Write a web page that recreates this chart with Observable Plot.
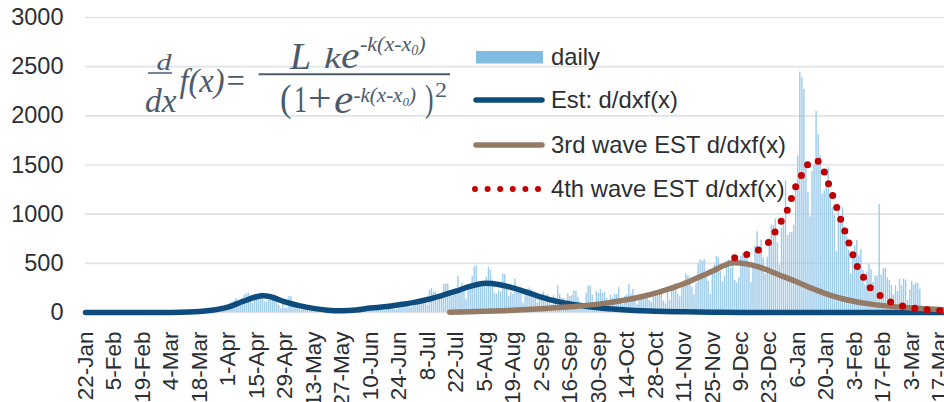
<!DOCTYPE html>
<html><head><meta charset="utf-8">
<script src="https://cdn.jsdelivr.net/npm/d3@7"></script>
<script src="https://cdn.jsdelivr.net/npm/@observablehq/plot@0.6"></script>
<style>
html,body{margin:0;padding:0;background:#fff;overflow:hidden}
#chart{width:944px;height:402px;overflow:hidden}
</style></head><body><div id="chart"></div>
<script>
// ---- data ----
const dailyStart = "2020-01-22";
const dailyJan20 = [0,0,1,0,0,0,0,0,1,0];
const dailyFeb20 = [0,0,0,0,0,0,0,0,0,0,0,1,1,2,8,1,3,3,1,3,3,2,3,1,3,2,1,1,1];
const dailyMar20 = [3,2,4,0,8,6,1,2,0,4,3,6,2,4,1,3,1,9,6,11,7,3,16,17,41,47,40,63,68,13,78];
const dailyApr20 = [66,97,89,116,143,83,80,144,178,189,197,166,91,161,127,149,201,181,107,102,123,132,134,161,103,72,39,112,47,46];
const dailyMay20 = [165,160,91,87,58,38,23,39,36,22,15,28,10,30,9,14,5,10,5,5,11,3,2,14,8,10,11,15,22,14,5];
const dailyJun20 = [13,34,12,28,20,26,14,13,12,18,22,25,24,47,48,27,16,41,35,39,35,29,31,55,48,54,57,60,58,54];
const dailyJul20 = [67,107,124,131,111,102,106,75,224,243,206,206,119,143,165,286,293,290,188,168,237,238,366,260,295,239,131,266,250,367,463];
const dailyAug20 = [472,292,258,309,263,360,462,429,331,197,188,222,206,389,385,260,161,207,186,339,258,256,212,95,182,236,250,226,148,148,100];
const dailySep20 = [170,141,211,136,181,116,77,170,149,276,187,146,146,80,191,163,172,220,218,155,98,88,59,195,270,270,173,78,212,194];
const dailyOct20 = [235,196,207,143,78,176,142,186,182,253,146,78,166,177,284,185,235,134,78,139,150,185,186,203,124,102,158,171,221,198,215];
const dailyNov20 = [116,87,209,122,269,242,294,189,157,293,317,393,374,352,255,180,298,493,534,522,539,391,314,186,401,481,570,561,418,311];
const dailyDec20 = [372,500,533,449,584,327,299,352,572,602,595,621,480,305,460,678,822,664,736,556,392,563,748,888,884,949,708,481,856,944,1337];
const dailyJan21 = [783,814,816,884,1278,1591,2447,2392,2268,1494,1219,970,1433,1502,2044,1809,1592,1204,1240,1274,1471,1175,1070,986,618,1026,973,1064,868,769,633];
const dailyFeb21 = [393,556,676,734,577,639,429,276,412,491,434,307,369,371,1100,378,445,445,353,327,272,178,275,213,340,270,337,329];
const dailyMar21 = [121,232,316,279,301,293,237];

const estDates = ["2020-01-22","2020-02-19","2020-03-04","2020-03-18","2020-03-25","2020-04-01","2020-04-08","2020-04-15","2020-04-18","2020-04-22","2020-04-29","2020-05-06","2020-05-13","2020-05-20","2020-05-27","2020-06-03","2020-06-10","2020-06-17","2020-06-24","2020-07-01","2020-07-08","2020-07-15","2020-07-22","2020-07-29","2020-08-04","2020-08-12","2020-08-19","2020-08-26","2020-09-02","2020-09-09","2020-09-16","2020-09-23","2020-09-30","2020-10-07","2020-10-14","2020-10-28","2020-11-11","2020-11-25","2020-12-09","2021-01-06","2021-03-19"];
const estValues = [0,0,1,10,25,55,110,160,170,160,108,70,42,24,18,26,45,58,78,100,132,172,217,265,295,285,251,205,156,115,88,66,48,35,26,13,7,3,1,0,0];

const wave3Dates = ["2020-07-19","2020-08-05","2020-08-19","2020-09-02","2020-09-16","2020-09-30","2020-10-14","2020-10-21","2020-10-28","2020-11-04","2020-11-11","2020-11-18","2020-11-25","2020-12-01","2020-12-05","2020-12-09","2020-12-16","2020-12-23","2020-12-30","2021-01-06","2021-01-13","2021-01-20","2021-01-27","2021-02-03","2021-02-10","2021-02-17","2021-03-03","2021-03-19"];
const wave3Values = [3,12,22,37,58,85,130,160,196,242,292,355,420,480,505,502,475,425,365,308,245,190,145,112,88,70,45,28];

const wave4Dates = ["2020-12-06","2020-12-12","2020-12-18","2020-12-23","2020-12-26","2020-12-29","2021-01-01","2021-01-03","2021-01-05","2021-01-08","2021-01-11","2021-01-14","2021-01-16","2021-01-19","2021-01-21","2021-01-23","2021-01-25","2021-01-27","2021-01-29","2021-01-31","2021-02-02","2021-02-04","2021-02-07","2021-02-10","2021-02-15","2021-02-20","2021-02-26","2021-03-04","2021-03-10","2021-03-17"];
const wave4Values = [556,590,640,720,825,935,1047,1166,1281,1400,1508,1550,1539,1431,1315,1197,1078,951,834,715,593,478,370,265,180,112,68,44,30,18];

const yTicks = [0,500,1000,1500,2000,2500,3000];
const xTickDates = ["2020-01-22","2020-02-05","2020-02-19","2020-03-04","2020-03-18","2020-04-01","2020-04-15","2020-04-29","2020-05-13","2020-05-27","2020-06-10","2020-06-24","2020-07-08","2020-07-22","2020-08-05","2020-08-19","2020-09-02","2020-09-16","2020-09-30","2020-10-14","2020-10-28","2020-11-11","2020-11-25","2020-12-09","2020-12-23","2021-01-06","2021-01-20","2021-02-03","2021-02-17","2021-03-03","2021-03-17"];
const legendLabels = ["daily","Est: d/dxf(x)","3rd wave EST d/dxf(x)","4th wave EST d/dxf(x)"];

// ---- build ----
const parse = d3.utcParse("%Y-%m-%d");
const start = parse(dailyStart);
const daily = [].concat(dailyJan20,dailyFeb20,dailyMar20,dailyApr20,dailyMay20,dailyJun20,dailyJul20,dailyAug20,dailySep20,dailyOct20,dailyNov20,dailyDec20,dailyJan21,dailyFeb21,dailyMar21);
const dailyRows = daily.map((v,i)=>({date:d3.utcDay.offset(start,i), value:v}));
const toRows = (ds,vs)=>ds.map((d,i)=>({date:parse(d), value:vs[i]}));
const estRows = toRows(estDates, estValues);
const wave3Rows = toRows(wave3Dates, wave3Values);
const wave4Rows = toRows(wave4Dates, wave4Values);
const xTicks = xTickDates.map(parse);
const xEnd = new Date(start.getTime() + 422.1*864e5);

const C = {daily:"#9ccbeb", est:"#0e4c7e", w3:"#957a66", w4:"#c00000", grid:"#dfe3e8", text:"#2b2f33", eq:"#4b5b6c"};

const plot = Plot.plot({
  width: 944, height: 402,
  marginLeft: 85, marginRight: 0, marginTop: 17, marginBottom: 90,
  style: {fontFamily:"'Liberation Sans', Arial, sans-serif", fontSize:"23.5px", color:C.text, background:"#fff"},
  x: {type:"utc", domain:[start, xEnd]},
  y: {domain:[0,3000]},
  marks: [
    Plot.ruleY(yTicks, {stroke:C.grid, strokeWidth:1.6}),
    Plot.ruleX(dailyRows, {x:"date", y1:0, y2:"value", stroke:C.daily, strokeWidth:1.4}),
    Plot.line(estRows, {x:"date", y:"value", stroke:C.est, strokeWidth:5.5, curve:"catmull-rom", strokeLinecap:"round"}),
    Plot.line(wave3Rows, {x:"date", y:"value", stroke:C.w3, strokeWidth:5.5, curve:"catmull-rom", strokeLinecap:"round"}),
    Plot.line(wave4Rows, {x:"date", y:"value", stroke:C.w4, strokeWidth:7, strokeDasharray:"0 12.5", strokeLinecap:"round", curve:"catmull-rom"}),
    Plot.axisY({ticks:yTicks, tickSize:0, tickPadding:22, tickFormat:d=>String(d), fontSize:23.5, label:null}),
    Plot.axisX({ticks:xTicks, tickSize:0, tickPadding:19, tickRotate:-90, tickFormat:d3.utcFormat("%-d-%b"), fontSize:22.5, label:null})
  ]
});
document.getElementById("chart").appendChild(plot);

// ---- legend ----
const svg = d3.select(plot);
const lg = svg.append("g").attr("text-anchor","start").attr("font-family","'Liberation Sans', Arial, sans-serif").attr("font-size","23.8px").attr("fill",C.text);
const rowY = [57, 100, 145, 189];
lg.append("rect").attr("x",476).attr("y",51).attr("width",67).attr("height",12.5).attr("fill","#80bbe0");
lg.append("line").attr("x1",476).attr("x2",542).attr("y1",rowY[1]).attr("y2",rowY[1]).attr("stroke",C.est).attr("stroke-width",5.5).attr("stroke-linecap","round");
lg.append("line").attr("x1",476).attr("x2",542).attr("y1",rowY[2]).attr("y2",rowY[2]).attr("stroke",C.w3).attr("stroke-width",5.5).attr("stroke-linecap","round");
lg.append("line").attr("x1",475).attr("x2",540).attr("y1",rowY[3]).attr("y2",rowY[3]).attr("stroke",C.w4).attr("stroke-width",6).attr("stroke-dasharray","0 12.6").attr("stroke-linecap","round");
legendLabels.forEach((t,i)=>{
  lg.append("text").attr("x",551).attr("y",rowY[i]).attr("dy","0.35em").text(t);
});

// ---- equation ----
const eq = svg.append("g").attr("text-anchor","start").attr("fill",C.eq).attr("font-family","'Liberation Serif', 'Times New Roman', serif");
const T = (x,y,s,size,italic,len)=>{
  const t = eq.append("text").attr("x",x).attr("y",y).attr("font-size",size+"px").attr("font-style",italic?"italic":"normal").text(s);
  if (len) t.attr("textLength",len).attr("lengthAdjust","spacingAndGlyphs");
  return t;
};
T(156.5,70,"d",24,true,15);
eq.append("line").attr("x1",148).attr("x2",172).attr("y1",73).attr("y2",73).attr("stroke",C.eq).attr("stroke-width",1.5);
T(145,111.5,"dx",34,true,31.5);
T(179.5,92,"f(x)=",33,true,67);
// numerator
T(290,68.5,"L",38,true);
T(324,67.5,"k",30,true,17);
T(341,67.5,"e",38,true,18.5);
const sup1 = eq.append("text").attr("x",360).attr("y",50.5).attr("font-size","22px").attr("font-style","italic");
sup1.append("tspan").text("-k(x-x");
sup1.append("tspan").attr("font-size","14px").attr("dy",4).text("0");
sup1.append("tspan").attr("dy",-4).text(")");
eq.append("line").attr("x1",258.5).attr("x2",450).attr("y1",74.3).attr("y2",74.3).attr("stroke",C.eq).attr("stroke-width",2);
// denominator
T(280,111,"(",38,false,11.5);
T(294,111.7,"1",38,false,13);
T(308,111,"+",40,false,23.5);
T(334,112.5,"e",40,true,19.3);
const sup2 = eq.append("text").attr("x",353.5).attr("y",101.7).attr("font-size","21px").attr("font-style","italic");
sup2.append("tspan").text("-k(x-x");
sup2.append("tspan").attr("font-size","13px").attr("dy",4).text("0");
sup2.append("tspan").attr("dy",-4).text(")");
T(425,111,")",38,false,8.5);
T(435,96.7,"2",20,false,12);
</script>
</body></html>
